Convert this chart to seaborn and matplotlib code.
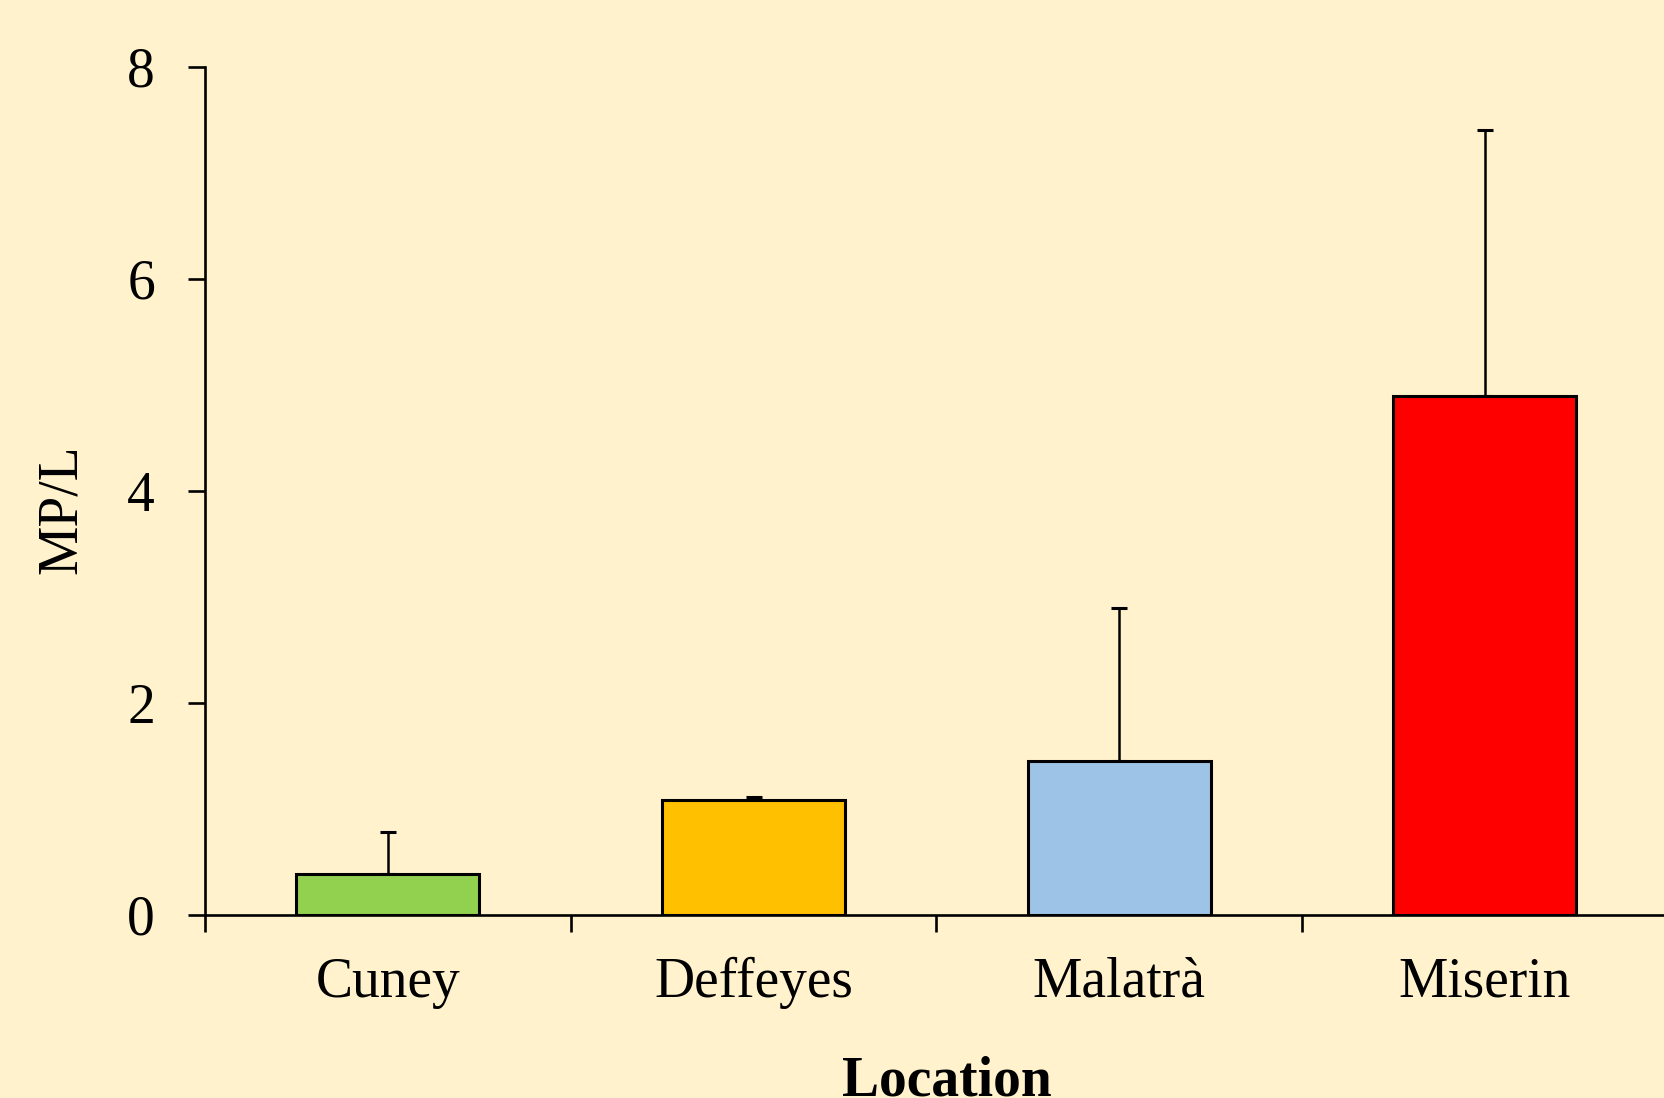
import matplotlib
matplotlib.use('Agg')
import matplotlib.pyplot as plt
import seaborn as sns

# Microplastic counts per litre at each location (mean and upper error)
locations = ['Cuney', 'Deffeyes', 'Malatrà', 'Miserin']
mp_per_l = [0.39, 1.08, 1.45, 4.90]
mp_err = [0.39, 0.03, 1.45, 2.51]
bar_colors = ['#92D050', '#FFC000', '#9DC3E6', '#FF0000']
y_ticks = [0, 2, 4, 6, 8]

bg = '#FFF2CC'

sns.set_style('ticks')
plt.rcParams['font.family'] = ['Liberation Serif', 'DejaVu Serif']
plt.rcParams['axes.linewidth'] = 1.9
plt.rcParams['text.color'] = 'black'
plt.rcParams['axes.labelcolor'] = 'black'
plt.rcParams['xtick.color'] = 'black'
plt.rcParams['ytick.color'] = 'black'

fig = plt.figure(figsize=(16.64, 10.98), dpi=100, facecolor=bg)
ax = fig.add_axes([0.1232, 0.1667, 0.879, 0.7723])
ax.set_facecolor(bg)

sns.barplot(x=locations, y=mp_per_l, hue=locations, palette=bar_colors,
            saturation=1, legend=False, width=0.5, edgecolor='black',
            linewidth=2.2, errorbar=None, ax=ax, zorder=2)

# plus-only error bars, Excel style
ax.errorbar(range(len(locations)), mp_per_l,
            yerr=[[0] * len(mp_err), mp_err], fmt='none',
            ecolor='black', elinewidth=1.8, capsize=5.5, capthick=2.2,
            zorder=1)

ax.set_xlim(-0.5, 3.5)
ax.set_ylim(0, 8)
ax.set_yticks(y_ticks)
ax.set_yticklabels([str(t) for t in y_ticks])

# ticks between categories, labels centred under bars
ax.set_xticks([-0.5, 0.5, 1.5, 2.5, 3.5])
ax.set_xticklabels([])
ax.set_xticks(range(len(locations)), minor=True)
ax.set_xticklabels(locations, minor=True)
ax.tick_params(axis='x', which='major', length=12, width=1.9, direction='out')
ax.tick_params(axis='x', which='minor', length=0, pad=30, labelsize=40)
ax.tick_params(axis='y', length=12, width=1.9, direction='out', pad=24, labelsize=40)

sns.despine(ax=ax)
for s in ['left', 'bottom']:
    ax.spines[s].set_color('black')

ax.set_ylabel('MP/L', fontsize=40)
ax.yaxis.set_label_coords(-0.08, 0.479)
ax.set_xlabel('Location', fontsize=40, fontweight='bold')
ax.xaxis.set_label_coords(0.507, -0.166)

fig.savefig('out.png', dpi=100, facecolor=bg)
